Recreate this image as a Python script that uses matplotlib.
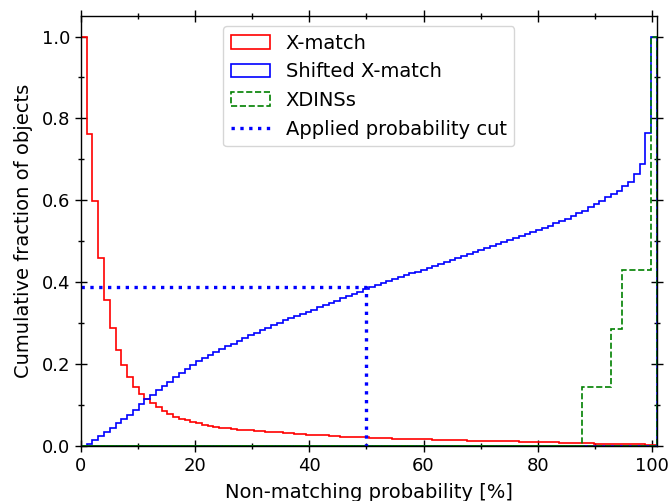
import matplotlib
matplotlib.use("Agg")
import matplotlib.pyplot as plt
import numpy as np

# 100 bins spanning the probability range
n_bins = 100
prob_max = 100.9

# cumulative fraction per bin
xmatch = [1.0, 0.762, 0.599, 0.459, 0.357, 0.287, 0.235, 0.197, 0.168, 0.145,
          0.127, 0.115, 0.104, 0.095, 0.086, 0.078, 0.072, 0.067, 0.063, 0.059,
          0.055, 0.051, 0.049, 0.047, 0.045, 0.043, 0.042, 0.040, 0.039, 0.038,
          0.037, 0.036, 0.035, 0.034, 0.033, 0.032, 0.031, 0.030, 0.029, 0.028,
          0.027, 0.026, 0.026, 0.025, 0.024, 0.023, 0.023, 0.022, 0.021, 0.021,
          0.020, 0.020, 0.019, 0.019, 0.018, 0.018, 0.017, 0.017, 0.016, 0.016,
          0.016, 0.015, 0.015, 0.015, 0.014, 0.014, 0.014, 0.013, 0.013, 0.013,
          0.012, 0.012, 0.012, 0.011, 0.011, 0.011, 0.010, 0.010, 0.010, 0.010,
          0.009, 0.009, 0.009, 0.008, 0.008, 0.008, 0.007, 0.007, 0.007, 0.006,
          0.006, 0.006, 0.005, 0.005, 0.005, 0.004, 0.004, 0.004, 0.003, 0.003]

shifted = [0.001, 0.005, 0.015, 0.024, 0.034, 0.044, 0.055, 0.065, 0.076, 0.088,
           0.102, 0.114, 0.124, 0.137, 0.147, 0.157, 0.168, 0.178, 0.187, 0.197,
           0.207, 0.215, 0.222, 0.229, 0.236, 0.243, 0.250, 0.257, 0.264, 0.271,
           0.277, 0.283, 0.289, 0.295, 0.301, 0.307, 0.312, 0.318, 0.323, 0.328,
           0.333, 0.339, 0.344, 0.350, 0.355, 0.361, 0.366, 0.371, 0.377, 0.383,
           0.389, 0.394, 0.399, 0.404, 0.408, 0.413, 0.417, 0.422, 0.426, 0.431,
           0.435, 0.440, 0.444, 0.449, 0.454, 0.459, 0.464, 0.469, 0.474, 0.478,
           0.483, 0.488, 0.493, 0.498, 0.503, 0.508, 0.513, 0.518, 0.523, 0.528,
           0.533, 0.538, 0.544, 0.549, 0.555, 0.561, 0.569, 0.575, 0.583, 0.591,
           0.599, 0.607, 0.615, 0.623, 0.634, 0.645, 0.664, 0.689, 0.765, 1.0]

# 7 XDINSs: zero below bin 87
xdins = [0.0] * 87 + [1/7] * 5 + [2/7] * 2 + [3/7] * 5 + [1.0]

prob_cut = 50
cut_fraction = 0.388

edges = np.linspace(0, prob_max, n_bins + 1)
centers = 0.5 * (edges[:-1] + edges[1:])

fig, ax = plt.subplots(figsize=(6.72, 5.01), dpi=100)
fig.subplots_adjust(left=0.1205, right=0.9777, bottom=0.1098, top=0.968)

series = [(xmatch, "red", "-", "X-match"),
          (shifted, "blue", "-", "Shifted X-match"),
          (xdins, "green", "--", "XDINSs")]
for vals, col, ls, lab in series:
    n, b, patches = ax.hist(centers, bins=edges, weights=vals, histtype="step",
                            color=col, linestyle=ls, linewidth=1.2, label=lab)
    patches[0].set_closed(True)

ax.plot([0, prob_cut, prob_cut], [cut_fraction, cut_fraction, 0], color="blue",
        linestyle=":", linewidth=2.4, label="Applied probability cut")

ax.set_xlim(0, prob_max)
ax.set_ylim(0, 1.05)
ax.set_xticks(np.arange(0, 101, 20))
ax.set_xticks(np.arange(0, 101, 10), minor=True)
ax.set_yticks(np.arange(0, 1.01, 0.2))
ax.set_yticks(np.arange(0, 1.01, 0.1), minor=True)
ax.tick_params(which="both", direction="inout", top=True, right=True, labelsize=13)
ax.tick_params(which="major", length=8.4, width=1)
ax.tick_params(which="minor", length=5, width=1)
for sp in ax.spines.values():
    sp.set_linewidth(1.0)

ax.set_xlabel("Non-matching probability [%]", fontsize=14, labelpad=6)
ax.set_ylabel("Cumulative fraction of objects", fontsize=14, labelpad=6)
ax.legend(loc="upper center", fontsize=14)

fig.savefig("out.png", dpi=100)
